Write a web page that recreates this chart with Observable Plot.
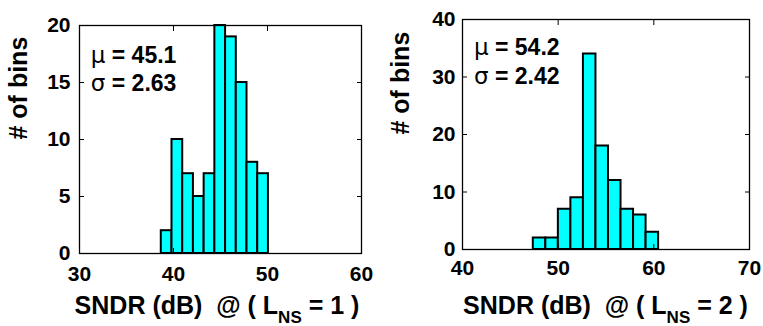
<!DOCTYPE html>
<html><head><meta charset="utf-8">
<script src="https://cdn.jsdelivr.net/npm/d3@7"></script>
<script src="https://cdn.jsdelivr.net/npm/@observablehq/plot@0.6"></script>
<style>
body{margin:0;background:#fff;}
#wrap{position:relative;width:763px;height:326px;overflow:hidden;}
#wrap svg{position:absolute;top:0;}
</style></head><body><div id="wrap"></div>
<script>
// ---- data ----
const leftBinEdges = [38.70, 39.84, 40.98, 42.12, 43.26, 44.40, 45.54, 46.68, 47.82, 48.96, 50.10];
const leftCounts   = [2, 10, 7, 5, 7, 20, 19, 15, 8, 7];
const leftXTicks   = [30, 40, 50, 60];
const leftYTicks   = [0, 5, 10, 15, 20];
const leftStats    = ["45.1", "2.63"];
const leftLNS      = "1";

const rightBinEdges = [47.40, 48.71, 50.02, 51.33, 52.64, 53.95, 55.26, 56.57, 57.88, 59.19, 60.50];
const rightCounts   = [2, 2, 7, 9, 34, 18, 12, 7, 6, 3];
const rightXTicks   = [40, 50, 60, 70];
const rightYTicks   = [0, 10, 20, 30, 40];
const rightStats    = ["54.2", "2.42"];
const rightLNS      = "2";

const FONT = "'Liberation Sans', Arial, Helvetica, sans-serif";

function panel(cfg) {
  const bins = cfg.counts.map((c, i) => ({x1: cfg.edges[i], x2: cfg.edges[i + 1], y: c}));
  const xd = [cfg.xTicks[0], cfg.xTicks[cfg.xTicks.length - 1]];
  const yd = [cfg.yTicks[0], cfg.yTicks[cfg.yTicks.length - 1]];
  const statY = [yd[1] * cfg.muY, yd[1] * cfg.sigY];
  const statX = xd[0] + (xd[1] - xd[0]) * 0.04;
  const svg = Plot.plot({
    width: cfg.width, height: 326,
    marginLeft: cfg.ml, marginRight: cfg.mr, marginTop: cfg.mt, marginBottom: cfg.mb,
    style: {fontFamily: FONT, fontSize: "21px", fontWeight: "bold", color: "#000", background: "transparent", overflow: "visible"},
    x: {domain: xd},
    y: {domain: yd},
    marks: [
      Plot.rectY(bins, {x1: "x1", x2: "x2", y: "y", fill: "#00ffff", stroke: "#000", strokeWidth: 2}),
      Plot.frame({stroke: "#000", strokeWidth: 1.3}),
      Plot.axisX(cfg.xTicks, {anchor: "bottom", tickSize: -5, tickPadding: cfg.xtp, label: null, fontSize: 21}),
      Plot.axisX(cfg.xTicks, {anchor: "top", tickSize: -5, tickFormat: () => "", label: null}),
      Plot.axisY(cfg.yTicks, {anchor: "left", tickSize: -5, tickPadding: cfg.ytp, label: null, fontSize: 21}),
      Plot.axisY(cfg.yTicks, {anchor: "right", tickSize: -5, tickFormat: () => "", label: null}),
      Plot.text(["μ", "σ"], {x: [statX, statX], y: statY, text: d => d, textAnchor: "start", fontSize: 23, fontWeight: "normal", fontFamily: "'DejaVu Sans', sans-serif"}),
      Plot.text(cfg.stats, {x: [statX, statX], y: statY, text: d => "= " + d, textAnchor: "start", dx: 21, fontSize: 23, fontWeight: "bold"}),
      Plot.text(["# of bins"], {frameAnchor: "left", rotate: -90, dx: cfg.ylabDx, fontSize: 25, fontWeight: "bold"})
    ]
  });
  svg.style.left = cfg.left + "px";
  // x label with subscript
  const cx = cfg.ml + (cfg.width - cfg.ml - cfg.mr) / 2 + cfg.xlabShift;
  const t = d3.select(svg).append("text")
    .attr("x", cx).attr("y", 314)
    .attr("text-anchor", "middle")
    .style("font-family", FONT).style("font-weight", "bold").style("font-size", "25px")
    .style("white-space", "pre").attr("fill", "#000");
  t.append("tspan").text("SNDR (dB)  @ ( L");
  t.append("tspan").attr("dy", 9).style("font-size", "17px").text("NS");
  t.append("tspan").attr("dy", -9).text(" = " + cfg.lns + " )");
  return svg;
}

const wrap = document.getElementById("wrap");
wrap.appendChild(panel({
  edges: leftBinEdges, counts: leftCounts, xTicks: leftXTicks, yTicks: leftYTicks, stats: leftStats, lns: leftLNS,
  width: 381, left: 0, ml: 79, mr: 20, mt: 25, mb: 73, xtp: 18, ytp: 14, muY: 0.87, sigY: 0.745, ylabDx: -61, xlabShift: -3
}));
wrap.appendChild(panel({
  edges: rightBinEdges, counts: rightCounts, xTicks: rightXTicks, yTicks: rightYTicks, stats: rightStats, lns: rightLNS,
  width: 382, left: 381, ml: 81, mr: 14, mt: 19, mb: 77, xtp: 16, ytp: 12, muY: 0.878, sigY: 0.752, ylabDx: -62, xlabShift: 0
}));
</script>
</body></html>
